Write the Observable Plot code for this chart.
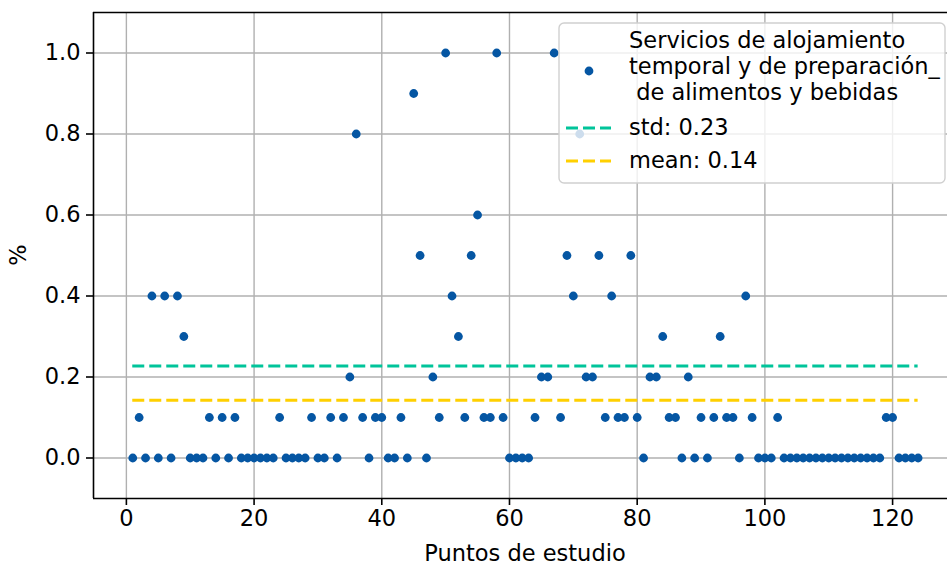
<!DOCTYPE html>
<html>
<head>
<meta charset="utf-8">
<script src="https://cdn.jsdelivr.net/npm/d3@7"></script>
<script src="https://cdn.jsdelivr.net/npm/@observablehq/plot@0.6"></script>
<style>
  html, body { margin: 0; padding: 0; background: #fff; }
  #chart { width: 947px; height: 567px; overflow: hidden; }
</style>
</head>
<body>
<div id="chart"></div>
<script>
// ---- data ----
const seriesName = ["Servicios de alojamiento", "temporal y de preparación_", " de alimentos y bebidas"];
const values = [
  0, 0.1, 0, 0.4, 0, 0.4, 0, 0.4, 0.3, 0,
  0, 0, 0.1, 0, 0.1, 0, 0.1, 0, 0, 0,
  0, 0, 0, 0.1, 0, 0, 0, 0, 0.1, 0,
  0, 0.1, 0, 0.1, 0.2, 0.8, 0.1, 0, 0.1, 0.1,
  0, 0, 0.1, 0, 0.9, 0.5, 0, 0.2, 0.1, 1.0,
  0.4, 0.3, 0.1, 0.5, 0.6, 0.1, 0.1, 1.0, 0.1, 0,
  0, 0, 0, 0.1, 0.2, 0.2, 1.0, 0.1, 0.5, 0.4,
  0.8, 0.2, 0.2, 0.5, 0.1, 0.4, 0.1, 0.1, 0.5, 0.1,
  0, 0.2, 0.2, 0.3, 0.1, 0.1, 0, 0.2, 0, 0.1,
  0, 0.1, 0.3, 0.1, 0.1, 0, 0.4, 0.1, 0, 0,
  0, 0.1, 0, 0, 0, 0, 0, 0, 0, 0,
  0, 0, 0, 0, 0, 0, 0, 0, 0.1, 0.1,
  0, 0, 0, 0
];
const xTicks = [0, 20, 40, 60, 80, 100, 120];
const yTicks = [0, 0.2, 0.4, 0.6, 0.8, 1.0];
const xDomain = [-5.15, 128.6];
const yDomain = [-0.1, 1.1];
const xLabel = "Puntos de estudio";
const yLabel = "%";

const points = values.map((v, i) => ({x: i + 1, y: v}));
const meanVal = d3.mean(values);
const stdVal = d3.deviation(values);
const xFirst = d3.min(points, d => d.x);
const xLast = d3.max(points, d => d.x);

const dotColor = "#0556a3";
const stdColor = "#00c49a";
const meanColor = "#ffd000";
const gridColor = "#b0b0b0";
const FS = 22.5;

const chart = Plot.plot({
  width: 947,
  height: 567,
  marginLeft: 93,
  marginRight: 0,
  marginTop: 12,
  marginBottom: 69,
  style: {fontFamily: "DejaVu Sans", fontSize: FS + "px", color: "#000", background: "#fff", overflow: "hidden"},
  x: {domain: xDomain, label: null},
  y: {domain: yDomain, label: null},
  marks: [
    Plot.gridX(xTicks, {stroke: gridColor, strokeOpacity: 1, strokeWidth: 1.4}),
    Plot.gridY(yTicks, {stroke: gridColor, strokeOpacity: 1, strokeWidth: 1.4}),
    Plot.dot(points, {x: "x", y: "y", r: 4.4, fill: dotColor, stroke: "none"}),
    Plot.ruleY([stdVal], {x1: xFirst, x2: xLast, stroke: stdColor, strokeWidth: 3, strokeDasharray: "12,5"}),
    Plot.ruleY([meanVal], {x1: xFirst, x2: xLast, stroke: meanColor, strokeWidth: 3, strokeDasharray: "12,5"}),
    Plot.ruleX([xDomain[0]], {stroke: "#000", strokeWidth: 1.6}),
    Plot.ruleY([yDomain[0]], {stroke: "#000", strokeWidth: 1.6}),
    Plot.ruleY([yDomain[1]], {stroke: "#000", strokeWidth: 1.6}),
    Plot.axisX(xTicks, {tickSize: 7, tickPadding: 5, tickFormat: d => String(d), fontSize: FS, strokeWidth: 1.6, label: null}),
    Plot.axisY(yTicks, {tickSize: 7, tickPadding: 6, tickFormat: d => d.toFixed(1), fontSize: FS, strokeWidth: 1.6, label: null})
  ]
});
document.getElementById("chart").appendChild(chart);

// axis titles and legend, added into the same SVG
const svg = d3.select(chart);
svg.append("text")
  .attr("x", 525).attr("y", 561)
  .attr("text-anchor", "middle")
  .attr("font-family", "DejaVu Sans").attr("font-size", FS)
  .attr("fill", "#000")
  .text(xLabel);
svg.append("text")
  .attr("transform", "translate(26,255) rotate(-90)")
  .attr("text-anchor", "middle")
  .attr("font-family", "DejaVu Sans").attr("font-size", FS)
  .attr("fill", "#000")
  .text(yLabel);

const lg = svg.append("g").attr("text-anchor", "start");
lg.append("rect")
  .attr("x", 559).attr("y", 23).attr("width", 386).attr("height", 160)
  .attr("rx", 5).attr("fill", "#fff").attr("fill-opacity", 0.8)
  .attr("stroke", "#d0d0d0").attr("stroke-width", 1.4);
lg.append("circle").attr("cx", 589).attr("cy", 71).attr("r", 4.4).attr("fill", dotColor);
const nameBaselines = [48, 74, 100];
seriesName.forEach((t, i) => {
  lg.append("text")
    .attr("x", 629).attr("y", nameBaselines[i])
    .attr("text-anchor", "start")
    .attr("font-family", "DejaVu Sans").attr("font-size", FS)
    .attr("fill", "#000").attr("xml:space", "preserve").style("white-space", "pre")
    .text(t);
});
lg.append("line").attr("x1", 566).attr("x2", 611).attr("y1", 128).attr("y2", 128)
  .attr("stroke", stdColor).attr("stroke-width", 3).attr("stroke-dasharray", "12,5");
lg.append("text").attr("x", 629).attr("y", 135).attr("text-anchor", "start")
  .attr("font-family", "DejaVu Sans").attr("font-size", FS).attr("fill", "#000")
  .text("std: " + stdVal.toFixed(2));
lg.append("line").attr("x1", 566).attr("x2", 611).attr("y1", 161).attr("y2", 161)
  .attr("stroke", meanColor).attr("stroke-width", 3).attr("stroke-dasharray", "12,5");
lg.append("text").attr("x", 629).attr("y", 168).attr("text-anchor", "start")
  .attr("font-family", "DejaVu Sans").attr("font-size", FS).attr("fill", "#000")
  .text("mean: " + meanVal.toFixed(2));
</script>
</body>
</html>
